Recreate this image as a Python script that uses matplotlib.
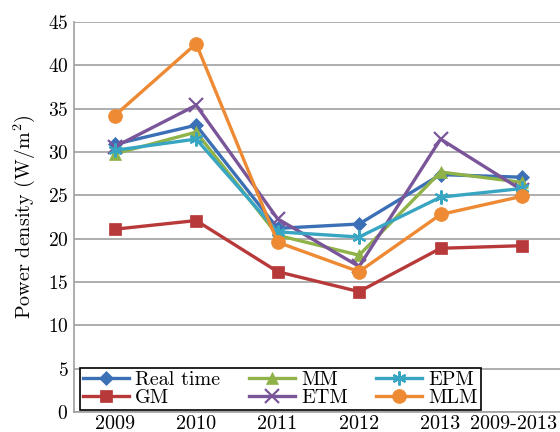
import matplotlib
matplotlib.use('Agg')
import matplotlib.pyplot as plt
import matplotlib.transforms as mtransforms
import numpy as np

plt.rcParams['font.family'] = ['cmr10', 'DejaVu Serif']
plt.rcParams['mathtext.fontset'] = 'cm'
plt.rcParams['axes.formatter.use_mathtext'] = True

years = ['2009', '2010', '2011', '2012', '2013', '2009-2013']
real_time = [30.9, 33.1, 21.2, 21.7, 27.4, 27.1]
gm = [21.1, 22.1, 16.2, 13.9, 18.9, 19.2]
mm = [29.8, 32.3, 20.4, 18.1, 27.7, 26.5]
etm = [30.6, 35.4, 22.3, 16.8, 31.5, 25.6]
epm = [30.2, 31.5, 20.8, 20.2, 24.8, 25.8]
mlm = [34.2, 42.5, 19.6, 16.2, 22.8, 24.9]

series = [
    ('Real time', real_time, '#3b6fb6', 'D', 7),
    ('GM', gm, '#b8393a', 's', 9),
    ('MM', mm, '#8fb249', '^', 9),
    ('ETM', etm, '#7a5599', 'x', 10),
    ('EPM', epm, '#38a6c2', (6, 2, 0), 10),
    ('MLM', mlm, '#ee8a33', 'o', 10),
]

fig = plt.figure(figsize=(5.6, 4.32), dpi=100)
ax = fig.add_axes([0.132, 0.046, 0.873, 0.903])
x = np.arange(len(years))
for name, vals, col, mk, ms in series:
    ax.plot(x, vals, color=col, lw=2.4, marker=mk, markersize=ms,
            markeredgewidth=1.6 if mk in ('x', (6, 2, 0)) else 0.5,
            markeredgecolor=col, label=name)

ax.set_xlim(-0.5, 5.5)
ax.set_ylim(0, 45)
ax.set_yticks(np.arange(0, 46, 5))
ax.set_xticks(x)
ax.set_xticklabels(years)
ax.yaxis.grid(True, color='#a0a0a0', lw=1.2)
ax.set_axisbelow(True)
for s in ['top', 'right']:
    ax.spines[s].set_visible(False)
ax.spines['left'].set_color('#a0a0a0')
ax.spines['bottom'].set_color('#a0a0a0')
ax.spines['left'].set_linewidth(1.2)
ax.spines['bottom'].set_linewidth(1.2)
ax.tick_params(axis='y', length=0, labelsize=14, pad=4)
ax.tick_params(axis='x', length=0, labelsize=14.5, pad=2)
ax.set_ylabel('Power density (W/m$^2$)', fontsize=14.5, labelpad=8)

# keep the last category label inside the figure
last = ax.get_xticklabels()[-1]
last.set_transform(last.get_transform() +
                   mtransforms.ScaledTranslation(-0.08, 0, fig.dpi_scale_trans))

leg = ax.legend(ncol=3, loc='lower left', bbox_to_anchor=(0.008, 0.0),
                fontsize=14.5, frameon=True, fancybox=False, edgecolor='black',
                framealpha=1, borderpad=0.15, labelspacing=0.0,
                handlelength=2.3, columnspacing=1.4, handletextpad=0.3,
                borderaxespad=0.1)
leg.get_frame().set_linewidth(1.2)

fig.savefig('out.png', dpi=100)
